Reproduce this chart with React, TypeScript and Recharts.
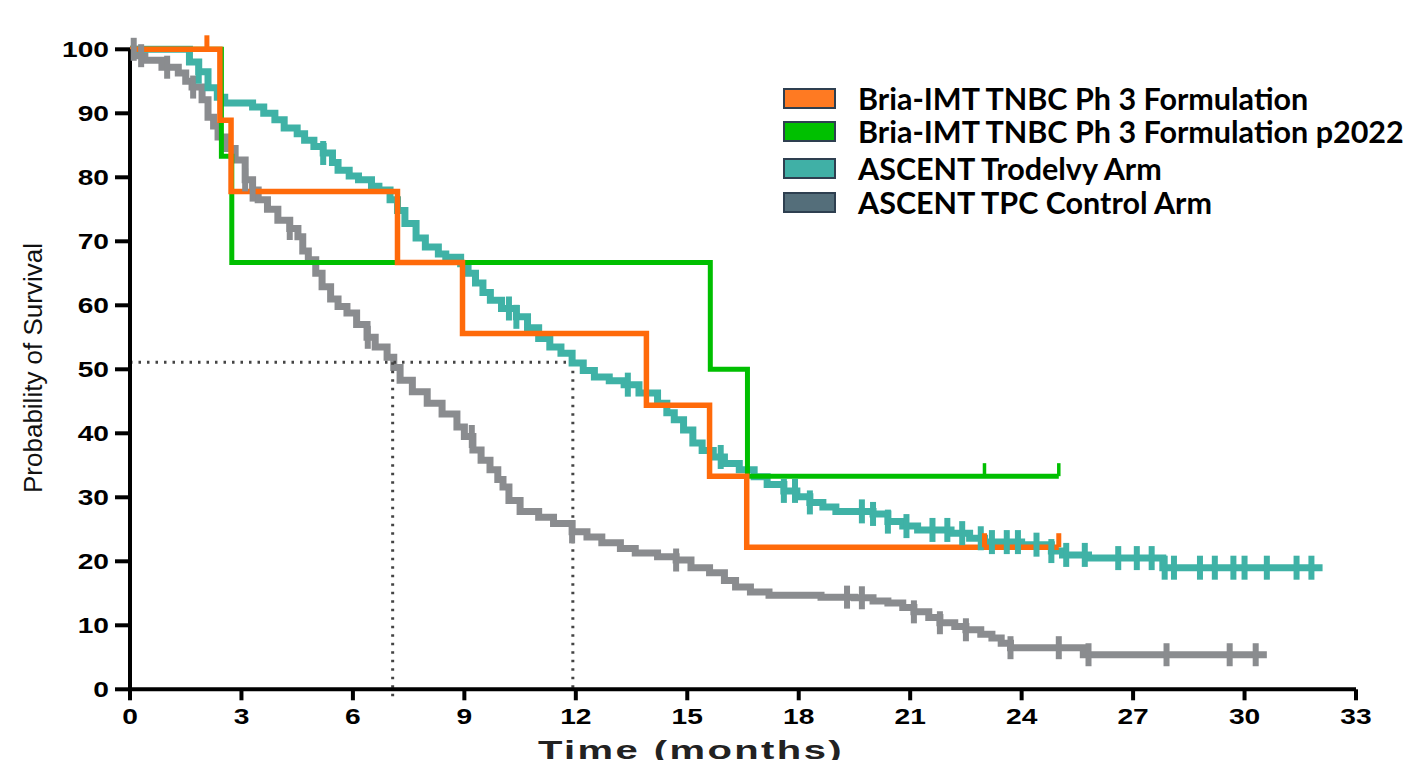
import React from "react";
import {
  ComposedChart,
  Line,
  Scatter,
  XAxis,
  YAxis,
  ReferenceLine,
} from "recharts";

// ---------- data ----------
const xTicks = [0, 3, 6, 9, 12, 15, 18, 21, 24, 27, 30, 33];
const yTicks = [0, 10, 20, 30, 40, 50, 60, 70, 80, 90, 100];

const seriesNames = [
  "Bria-IMT TNBC Ph 3 Formulation",
  "Bria-IMT TNBC Ph 3 Formulation p2022",
  "ASCENT Trodelvy Arm",
  "ASCENT TPC Control Arm",
];

// Bria-IMT TNBC Ph 3 Formulation (orange) KM steps [month, survival]
const briaPh3: [number, number][] = [
  [0, 100], [2.42, 88.9], [2.72, 77.8], [7.2, 66.7], [8.95, 55.6],
  [13.9, 44.4], [15.6, 33.3], [16.6, 22.2], [25.0, 22.2],
];
const briaPh3Censor = [2.07, 23.0, 25.0];

// Bria-IMT TNBC Ph 3 Formulation p2022 (green)
const briaP2022: [number, number][] = [
  [0, 100], [2.46, 83.3], [2.74, 66.7], [15.62, 50.0], [16.62, 33.3], [25.0, 33.3],
];
const briaP2022Censor = [23.0, 25.0];

// ASCENT Trodelvy arm (teal)
const trodelvy: [number, number][] = [
  [0, 100], [1.6, 98], [1.85, 96.5], [2.1, 94], [2.35, 92.5], [2.55, 91.6],
  [3.3, 91.0], [3.6, 90], [3.9, 89], [4.15, 87.7], [4.5, 86.8], [4.7, 85.8],
  [4.95, 84.8], [5.2, 83.8], [5.45, 82.3], [5.6, 81.1], [5.9, 80.2], [6.15, 79.6],
  [6.5, 78.6], [6.7, 78], [7.0, 76.5], [7.2, 74.8], [7.4, 72.8], [7.7, 70.5],
  [7.95, 69.1], [8.3, 68], [8.5, 67.5], [8.9, 66.5], [9.1, 65], [9.3, 63.5],
  [9.5, 62], [9.7, 60.8], [10.0, 59.5], [10.4, 58.2], [10.7, 56.5], [11.0, 54.8],
  [11.3, 53.5], [11.6, 52.5], [11.9, 51.0], [12.2, 49.8], [12.5, 48.8], [12.9, 48.2],
  [13.3, 47.6], [13.7, 46.3], [14.2, 44.7], [14.45, 43.2], [14.65, 42.1], [14.9, 40.5],
  [15.15, 38.5], [15.4, 37.3], [15.7, 36.3], [16.0, 35.3], [16.4, 34.3], [16.8, 33.2],
  [17.15, 32.0], [17.6, 31.0], [17.95, 30.1], [18.3, 29.2], [18.65, 28.5], [19.0, 27.8],
  [20.0, 27.4], [20.4, 26.2], [20.8, 25.5], [21.2, 24.9], [22.1, 24.4], [22.6, 23.6],
  [23.0, 23.0], [24.0, 22.6], [24.8, 21.6], [25.1, 21.0], [25.8, 20.5], [27.8, 19.0],
  [32.1, 19.0],
];
const trodelvyCensor = [
  1.85, 5.2, 10.2, 10.4, 13.4, 15.9, 17.6, 17.9, 18.3, 19.7, 20.0, 20.4, 20.9,
  21.6, 22.0, 22.4, 22.9, 23.2, 23.6, 23.9, 24.4, 24.8, 25.2, 25.7, 26.6, 27.1,
  27.5, 27.85, 28.1, 28.8, 29.2, 29.7, 30.0, 30.6, 31.4, 31.8,
];

// ASCENT TPC control arm (grey)
const tpc: [number, number][] = [
  [0, 100], [0.2, 99], [0.4, 98.3], [0.86, 97.2], [1.3, 96.3], [1.5, 95],
  [1.67, 94.1], [1.94, 92.1], [2.1, 89.4], [2.25, 88], [2.37, 86.3], [2.6, 84.5],
  [2.83, 82.7], [3.1, 79.6], [3.3, 78], [3.45, 76.5], [3.7, 75], [3.98, 73.3],
  [4.3, 72], [4.52, 70.7], [4.65, 68.5], [4.8, 67.1], [5.0, 65], [5.17, 62.9],
  [5.4, 61], [5.6, 59.8], [5.84, 58.8], [6.1, 57], [6.38, 55], [6.6, 53.5],
  [6.92, 51.9], [7.1, 50.3], [7.27, 48.3], [7.6, 46.5], [8.0, 44.7], [8.4, 43],
  [8.8, 41], [9.0, 39.5], [9.23, 37.4], [9.45, 35.8], [9.69, 34.3], [9.9, 32.8],
  [10.04, 31.6], [10.2, 29.5], [10.5, 27.8], [11.0, 26.9], [11.4, 25.9], [11.9, 24.6],
  [12.3, 23.8], [12.7, 22.9], [13.2, 22.0], [13.6, 21.3], [14.2, 20.7], [14.7, 20.2],
  [15.1, 19.0], [15.6, 18.2], [16.0, 17.0], [16.3, 16.0], [16.7, 15.2], [17.2, 14.7],
  [18.6, 14.4], [19.5, 14.3], [20.0, 13.8], [20.4, 13.5], [20.8, 12.8], [21.1, 12.1],
  [21.5, 11.2], [21.8, 10.4], [22.2, 9.8], [22.5, 9.3], [22.9, 8.6], [23.2, 8.0],
  [23.45, 7.2], [23.7, 6.5], [25.66, 5.4], [30.6, 5.4],
];
const tpcCensor = [
  0.1, 0.3, 1.0, 1.7, 3.1, 3.3, 4.3, 6.4, 9.2, 11.9, 14.7, 19.3, 19.7, 21.1,
  21.8, 22.5, 23.7, 25.0, 25.8, 27.9, 29.6, 30.3,
];

// median reference lines
const medianSurvival = 51.1;
const medianTpc = 7.07;
const medianTrodelvy = 11.92;

// ---------- helpers ----------
const toRows = (arr: [number, number][]) => arr.map(([x, y]) => ({ x, y }));
const stepAt = (arr: [number, number][], x: number) => {
  let v = arr[0][1];
  for (const [px, py] of arr) {
    if (px <= x) v = py;
  }
  return v;
};
const censorRows = (arr: [number, number][], xs: number[]) =>
  xs.map((x) => ({ x, y: stepAt(arr, x) }));

const C_ORANGE = "#FF6A0A";
const C_GREEN = "#00BF00";
const C_TEAL = "#3FB2A6";
const C_GREY = "#8A8C8F";

const FONT = "'Liberation Sans', Arial, sans-serif";

const crossShape = (color: string, w: number, h: number) => (p: any) => (
  <rect x={p.cx - w / 2} y={p.cy - h / 2} width={w} height={h} fill={color} />
);
const upTickShape = (color: string, w: number, h: number) => (p: any) => (
  <rect x={p.cx - w / 2} y={p.cy - h} width={w} height={h} fill={color} />
);

const XTick = (props: any) => {
  const { x, y, payload } = props;
  return (
    <text
      transform={`translate(${x},${y}) scale(1.28,1)`}
      x={0}
      y={22}
      textAnchor="middle"
      fontFamily={FONT}
      fontWeight="bold"
      fontSize={22}
      fill="#000"
    >
      {payload.value}
    </text>
  );
};

const YTick = (props: any) => {
  const { x, y, payload } = props;
  return (
    <text
      transform={`translate(${x - 4},${y}) scale(1.28,1)`}
      x={0}
      y={8}
      textAnchor="end"
      fontFamily={FONT}
      fontWeight="bold"
      fontSize={22}
      fill="#000"
    >
      {payload.value}
    </text>
  );
};

const legendColors = ["#FF7A22", "#00C000", "#40B0A6", "#546E7A"];
const legendTops = [90, 123, 160, 194];

export default function App() {
  return (
    <div style={{ position: "relative", width: 1405, height: 752 }}>
      <ComposedChart
        width={1405}
        height={752}
        margin={{ top: 41.3, right: 57, left: 0, bottom: 30.7 }}
      >
        <XAxis
          dataKey="x"
          type="number"
          domain={[0, 33]}
          ticks={xTicks}
          height={40}
          axisLine={{ stroke: "#000", strokeWidth: 4 }}
          tickLine={{ stroke: "#000", strokeWidth: 4 }}
          tickSize={11}
          tick={<XTick />}
        />
        <YAxis
          dataKey="y"
          type="number"
          domain={[0, 100]}
          ticks={yTicks}
          width={122}
          axisLine={{ stroke: "#000", strokeWidth: 4 }}
          tickLine={{ stroke: "#000", strokeWidth: 4 }}
          tickSize={15}
          tick={<YTick />}
        />
        <Line
          data={toRows(tpc)}
          dataKey="y"
          type="stepAfter"
          stroke={C_GREY}
          strokeWidth={7}
          dot={false}
          activeDot={false}
          isAnimationActive={false}
        />
        <Scatter
          data={censorRows(tpc, tpcCensor)}
          dataKey="y"
          fill={C_GREY}
          shape={crossShape(C_GREY, 6, 23)}
          isAnimationActive={false}
        />
        <ReferenceLine
          segment={[{ x: 0, y: medianSurvival }, { x: medianTrodelvy, y: medianSurvival }]}
          stroke="#444"
          strokeWidth={3}
          strokeDasharray="2.5 6"
          ifOverflow="visible"
        />
        <ReferenceLine
          segment={[{ x: medianTpc, y: medianSurvival }, { x: medianTpc, y: -1.8 }]}
          stroke="#444"
          strokeWidth={3}
          strokeDasharray="2.5 6"
          ifOverflow="visible"
        />
        <ReferenceLine
          segment={[{ x: medianTrodelvy, y: medianSurvival }, { x: medianTrodelvy, y: 0 }]}
          stroke="#444"
          strokeWidth={3}
          strokeDasharray="2.5 6"
          ifOverflow="visible"
        />
        <Line
          data={toRows(trodelvy)}
          dataKey="y"
          type="stepAfter"
          stroke={C_TEAL}
          strokeWidth={7}
          dot={false}
          activeDot={false}
          isAnimationActive={false}
        />
        <Scatter
          data={censorRows(trodelvy, trodelvyCensor)}
          dataKey="y"
          fill={C_TEAL}
          shape={crossShape(C_TEAL, 6, 24)}
          isAnimationActive={false}
        />
        <Line
          data={toRows(briaP2022)}
          dataKey="y"
          type="stepAfter"
          stroke={C_GREEN}
          strokeWidth={5}
          dot={false}
          activeDot={false}
          isAnimationActive={false}
        />
        <Scatter
          data={censorRows(briaP2022, briaP2022Censor)}
          dataKey="y"
          fill={C_GREEN}
          shape={upTickShape(C_GREEN, 3.5, 13)}
          isAnimationActive={false}
        />
        <Line
          data={toRows(briaPh3)}
          dataKey="y"
          type="stepAfter"
          stroke={C_ORANGE}
          strokeWidth={5.5}
          dot={false}
          activeDot={false}
          isAnimationActive={false}
        />
        <Scatter
          data={censorRows(briaPh3, briaPh3Censor)}
          dataKey="y"
          fill={C_ORANGE}
          shape={upTickShape(C_ORANGE, 5, 14)}
          isAnimationActive={false}
        />
      </ComposedChart>

      {/* Legend */}
      {seriesNames.map((name, i) => (
        <div
          key={name}
          style={{
            position: "absolute",
            left: 775,
            top: legendTops[i] - 10,
            height: 20,
            display: "flex",
            alignItems: "center",
            whiteSpace: "nowrap",
          }}
        >
          <div
            style={{
              width: 49,
              height: 17,
              flex: "none",
              background: legendColors[i],
              border: "2px solid #2E3F50",
              boxSizing: "content-box",
            }}
          />
          <span
            style={{
              marginLeft: 22,
              fontFamily: "Lato, 'Open Sans', sans-serif",
              fontWeight: 700,
              fontSize: 30.5,
              color: "#000",
              lineHeight: "20px",
            }}
          >
            {name}
          </span>
        </div>
      ))}

      {/* Axis titles */}
      <div
        style={{
          position: "absolute",
          left: 25,
          top: 360,
          transform: "translate(-50%,-50%) rotate(-90deg)",
          fontFamily: FONT,
          fontSize: 26,
          lineHeight: 1,
          whiteSpace: "nowrap",
          color: "#111",
        }}
      >
        Probability of Survival
      </div>
      <div
        style={{
          position: "absolute",
          left: 683,
          top: 742,
          transform: "translate(-50%,-50%) scaleX(1.6)",
          fontFamily: FONT,
          fontWeight: "bold",
          fontSize: 25,
          letterSpacing: 1.5,
          lineHeight: 1,
          whiteSpace: "nowrap",
          color: "#222",
        }}
      >
        Time (months)
      </div>
    </div>
  );
}
